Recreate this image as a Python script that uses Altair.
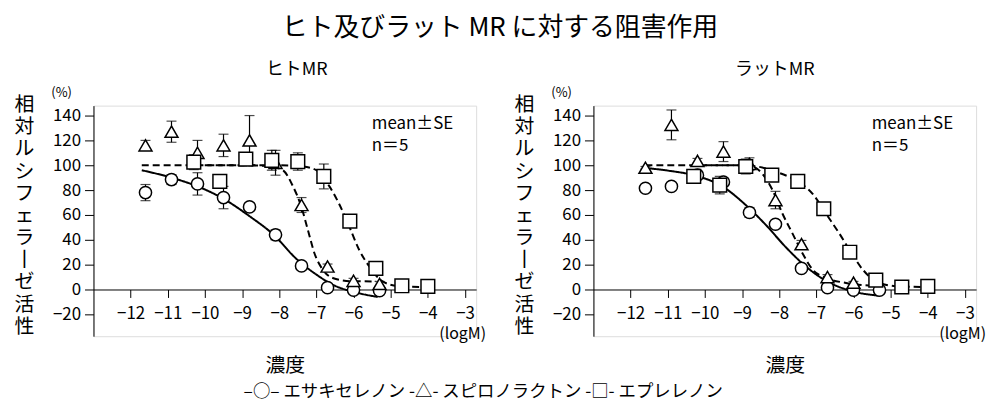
import altair as alt
import pandas as pd

FONT = "Noto Sans CJK JP"

series_names = ["エサキセレノン", "スピロノラクトン", "エプレレノン"]
panel_titles = ["ヒトMR", "ラットMR"]
main_title = "ヒト及びラット MR に対する阻害作用"
y_title_chars = ["相", "対", "ル", "シ", "フ", "ェ", "ラ", "丨", "ゼ", "活", "性"]
x_title = "濃度"
legend_text = "–○– エサキセレノン  -△- スピロノラクトン  -□- エプレレノン"
x_ticks = [-12, -11, -10, -9, -8, -7, -6, -5, -4, -3]
y_ticks = [-20, 0, 20, 40, 60, 80, 100, 120, 140]

# ---- Human MR (left) ----
esax_h_x = [-11.6, -10.9, -10.2, -9.5, -8.8, -8.1, -7.4, -6.7, -6.0, -5.3]
esax_h_y = [78, 88.5, 85, 74, 66.5, 44, 19, 1.5, -0.5, -1]
esax_h_se = [6.5, 4, 9, 9, 3, 4, 2, 1, 1, 1]
spiro_h_x = [-11.6, -10.9, -10.2, -9.5, -8.8, -8.1, -7.4, -6.7, -6.0, -5.3]
spiro_h_y = [116, 127, 110, 116, 120, 102, 68, 18.5, 7, 4.5]
spiro_h_se = [4, 8.5, 10, 9, 20, 10, 6, 2, 2, 2]
eple_h_x = [-10.3, -9.6, -8.9, -8.2, -7.5, -6.8, -6.1, -5.4, -4.7, -4.0]
eple_h_y = [102.5, 87, 105, 104, 103, 91, 55, 17, 3, 2.5]
eple_h_se = [6, 4, 3, 8, 7, 10, 3, 2, 1, 1]

fit_esax_h_x = [-11.7, -10.9, -10.2, -9.5, -8.8, -8.15, -7.55, -7.0, -6.5, -6.05, -5.35]
fit_esax_h_y = [96, 90, 83, 73, 59, 44, 25, 12, 3, -1.5, -6]
fit_spiro_h_x = [-11.7, -10.0, -9.0, -8.4, -8.15, -7.9, -7.63, -7.41, -7.23, -7.05, -6.83, -6.56, -6.07, -5.4]
fit_spiro_h_y = [100, 100, 100, 99.5, 98.5, 96, 83, 67, 48, 29, 16, 9.3, 6.7, 6.5]
fit_eple_h_x = [-10.3, -9.0, -8.0, -7.36, -7.0, -6.65, -6.39, -6.12, -5.85, -5.58, -5.23, -4.78, -4.07]
fit_eple_h_y = [100, 100, 100, 99, 96, 83, 69, 51, 32, 18.7, 6.7, 2.7, 2]

# ---- Rat MR (right) ----
esax_r_x = [-11.6, -10.9, -10.2, -9.5, -8.8, -8.1, -7.4, -6.7, -6.0, -5.3]
esax_r_y = [81.5, 83, 92, 86.5, 62, 52.5, 17, 1.5, -0.5, -0.5]
esax_r_se = [1, 3, 2, 3, 4, 3, 2, 1, 1, 1]
spiro_r_x = [-11.6, -10.9, -10.2, -9.5, -8.8, -8.1, -7.4, -6.7, -6.0]
spiro_r_y = [98, 132.5, 103.5, 111, 101, 72, 36.5, 10, 5.5]
spiro_r_se = [1, 12, 2, 8, 5, 7, 3, 2, 1]
eple_r_x = [-10.3, -9.6, -8.9, -8.2, -7.5, -6.8, -6.1, -5.4, -4.7, -4.0]
eple_r_y = [91, 84, 99, 92, 87, 65, 30, 7.5, 2, 2.5]
eple_r_se = [2, 7, 6, 2, 2, 2, 2, 1, 1, 1]

fit_esax_r_x = [-11.6, -10.97, -10.25, -9.53, -8.9, -8.36, -7.82, -7.28, -6.74, -6.02, -5.3]
fit_esax_r_y = [97.8, 95.6, 91.6, 83, 68, 52, 34, 18.5, 7, -1.5, -5]
fit_spiro_r_x = [-11.6, -10.0, -9.0, -8.72, -8.45, -8.18, -7.91, -7.64, -7.37, -7.1, -6.74, -6.2, -5.3]
fit_spiro_r_y = [100, 100, 100, 99, 93, 80, 61, 45, 29, 16, 9.3, 5.3, 2.7]
fit_eple_r_x = [-10.3, -9.0, -8.5, -8.18, -7.55, -7.1, -6.74, -6.38, -6.11, -5.75, -5.4, -4.86, -4.05]
fit_eple_r_y = [100, 100, 98.5, 95.6, 87.7, 77, 61, 45, 32, 16, 6.6, 2.7, 2]


def points_df(xs, ys, ses, name):
    return pd.DataFrame({"x": xs, "y": ys, "lo": [a - b for a, b in zip(ys, ses)],
                         "hi": [a + b for a, b in zip(ys, ses)], "series": name})


def fit_df(xs, ys, name):
    return pd.DataFrame({"x": xs, "y": ys, "series": name})


W, H = 385, 232
xscale = alt.Scale(domain=[-13, -2.7], nice=False, zero=False)
yscale = alt.Scale(domain=[-37.6, 148], nice=False, zero=False)

x_axis = alt.Axis(values=x_ticks, offset=-47, tickSize=8, labelPadding=8,
                  title=x_title, titlePadding=34, titleFontSize=20,
                  titleFontWeight="normal", labelFontSize=17, grid=False,
                  labelOverlap=False, labelFlush=False,
                  domainColor="black", tickColor="black", labelColor="black",
                  titleColor="black", labelFont=FONT, titleFont=FONT)
y_axis = alt.Axis(values=y_ticks, tickSize=9, labelPadding=4, labelFontSize=17,
                  grid=False, labelOverlap=False, labelFlush=False,
                  domainColor="black", tickColor="black",
                  labelColor="black", title=y_title_chars, titleAngle=0,
                  titleFontSize=20, titleLineHeight=22.3, titleAlign="center",
                  titleBaseline="top", titleX=-70, titleY=-11,
                  titleFontWeight="normal", titleColor="black",
                  labelFont=FONT, titleFont=FONT)


def panel(title, pts, fits, dx):
    shape_enc = alt.Shape("series:N", scale=alt.Scale(domain=series_names,
                          range=["circle", "triangle-up", "square"]), legend=None)
    size_enc = alt.Size("series:N", scale=alt.Scale(domain=series_names,
                        range=[150, 190, 140]), legend=None)
    dash_enc = alt.StrokeDash("series:N", scale=alt.Scale(domain=series_names,
                              range=[[1, 0], [7, 4], [7, 4]]), legend=None)
    X = lambda f: alt.X(f, scale=xscale, axis=x_axis)
    Y = lambda f: alt.Y(f, scale=yscale, axis=y_axis)

    err = alt.Chart(pts).mark_rule(color="black", strokeWidth=1.2).encode(
        x=X("x:Q"), y=Y("lo:Q"), y2="hi:Q")
    cap_hi = alt.Chart(pts).mark_tick(color="black", orient="horizontal", size=10,
                                      thickness=1.2).encode(x=X("x:Q"), y=Y("hi:Q"))
    cap_lo = alt.Chart(pts).mark_tick(color="black", orient="horizontal", size=10,
                                      thickness=1.2).encode(x=X("x:Q"), y=Y("lo:Q"))
    lines = alt.Chart(fits).mark_line(color="black", strokeWidth=2,
                                      interpolate="monotone").encode(
        x=X("x:Q"), y=Y("y:Q"), strokeDash=dash_enc, detail="series:N")
    marks = alt.Chart(pts).mark_point(filled=True, fill="white", stroke="black",
                                      strokeWidth=1.5, opacity=1).encode(
        x=X("x:Q"), y=Y("y:Q"), shape=shape_enc, size=size_enc)

    ann = pd.DataFrame({"t": ["mean±SE", "n＝5"], "row": [0, 1]})
    t1 = alt.Chart(ann).transform_filter("datum.row == 0").mark_text(
        align="left", baseline="middle", fontSize=17, font=FONT, color="black").encode(
        x=alt.value(280), y=alt.value(19), text="t:N")
    t2 = alt.Chart(ann).transform_filter("datum.row == 1").mark_text(
        align="left", baseline="middle", fontSize=17, font=FONT, color="black").encode(
        x=alt.value(280), y=alt.value(41), text="t:N")
    units = pd.DataFrame({"t": ["(%)", "(logM)"], "row": [0, 1]})
    pct = alt.Chart(units).transform_filter("datum.row == 0").mark_text(
        align="center", baseline="middle", fontSize=13, font=FONT, color="black").encode(
        x=alt.value(-32), y=alt.value(-13), text="t:N")
    logm = alt.Chart(units).transform_filter("datum.row == 1").mark_text(
        align="right", baseline="middle", fontSize=16, font=FONT, color="black").encode(
        x=alt.value(W + 10), y=alt.value(230), text="t:N")

    return alt.layer(err, cap_hi, cap_lo, lines, marks, t1, t2, pct, logm).properties(
        width=W, height=H,
        title=alt.TitleParams(title, fontSize=18, fontWeight="normal", font=FONT,
                              color="black", anchor="middle", dx=dx, offset=8))


left_pts = pd.concat([points_df(esax_h_x, esax_h_y, esax_h_se, series_names[0]),
                      points_df(spiro_h_x, spiro_h_y, spiro_h_se, series_names[1]),
                      points_df(eple_h_x, eple_h_y, eple_h_se, series_names[2])])
left_fit = pd.concat([fit_df(fit_esax_h_x, fit_esax_h_y, series_names[0]),
                      fit_df(fit_spiro_h_x, fit_spiro_h_y, series_names[1]),
                      fit_df(fit_eple_h_x, fit_eple_h_y, series_names[2])])
right_pts = pd.concat([points_df(esax_r_x, esax_r_y, esax_r_se, series_names[0]),
                       points_df(spiro_r_x, spiro_r_y, spiro_r_se, series_names[1]),
                       points_df(eple_r_x, eple_r_y, eple_r_se, series_names[2])])
right_fit = pd.concat([fit_df(fit_esax_r_x, fit_esax_r_y, series_names[0]),
                       fit_df(fit_spiro_r_x, fit_spiro_r_y, series_names[1]),
                       fit_df(fit_eple_r_x, fit_eple_r_y, series_names[2])])

left = panel(panel_titles[0], left_pts, left_fit, 12)
leg = alt.Chart(pd.DataFrame({"t": [legend_text]})).mark_text(
    align="left", baseline="middle", fontSize=17.5, font=FONT, color="black").encode(
    x=alt.value(151), y=alt.value(288), text="t:N")
left = alt.layer(left, leg)
right = panel(panel_titles[1], right_pts, right_fit, -10)

chart = alt.hconcat(left, right, spacing=118, bounds="flush").properties(
    title=alt.TitleParams(main_title, fontSize=26, fontWeight="normal", font=FONT,
                          color="black", anchor="middle", offset=20)
).configure_view(stroke=None).configure(font=FONT).configure_axis(
    labelOverlap=False, labelFlush=False)

chart.save("out.html", embed_options={"renderer": "svg", "actions": False})
